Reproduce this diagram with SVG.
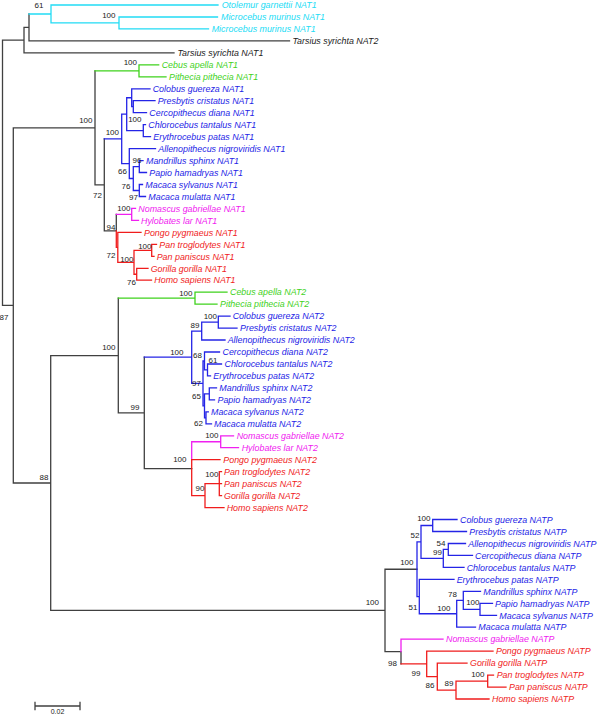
<svg xmlns="http://www.w3.org/2000/svg" width="600" height="715" viewBox="0 0 600 715">
<style>
path{fill:none;stroke-width:1.3;stroke-linecap:square}
.k{stroke:#404040}.c{stroke:#22dcf5}.g{stroke:#3fd21c}.u{stroke:#2424e6}.m{stroke:#f020f0}.r{stroke:#f01c1c}
text{font-family:"Liberation Sans",Arial,Helvetica,sans-serif}
.t{font-size:8.9px;font-style:italic}
.n{font-size:8px;fill:#222;text-anchor:end}
.tk{fill:#222}.tc{fill:#22dcf5}.tg{fill:#3fd21c}.tu{fill:#2424e6}.tm{fill:#f020f0}.tr{fill:#f01c1c}
</style>
<rect width="600" height="715" fill="#fff"/>
<g id="connectors">
<path class="k" d="M2.5,40.17V305.43M2.5,40.17H24M24,27.44V52.9M24,52.9H174M24,27.44H29M29,13.98V40.9M29,40.9H289.5M2.5,305.43H13.3M13.3,127.85V483M13.3,127.85H95M95,70.8V184.9M95,184.9H104.3M104.3,138.9V230.9M104.3,230.9H116.3M116.3,214.4V230.9M13.3,483H50.7M50.7,355.6V610.41M50.7,355.6H118.3M118.3,298.2V412.95M118.3,412.95H144.3M144.3,357.2V468.7M144.3,468.7H191.7M50.7,610.41H385M385,569.27V651.55M385,569.27H417M385,651.55H401M401,651.55V663.89"/>
<path class="c" d="M29,13.98H51M51,5V22.95M51,5H218M51,22.95H119M119,17V28.9M119,17H217.5M119,28.9H208.5"/>
<path class="g" d="M95,70.8H139M139,64.8V76.8M139,64.8H158.7M139,76.8H166M118.3,298.2H195M195,292.2V304.2M195,292.2H227M195,304.2H217"/>
<path class="u" d="M104.3,138.9H121.7M121.7,114.2V163.55M121.7,114.2H126.7M126.7,97.75V130.65M126.7,97.75H131.7M131.7,88.8V106.7M131.7,88.8H150M131.7,106.7H133.3M133.3,100.7V112.7M133.3,100.7H155M133.3,112.7H146.5M126.7,130.65H143.3M143.3,124.7V136.6M143.3,124.7H145.5M143.3,136.6H150.5M121.7,163.55H129.3M129.3,148.6V178.5M129.3,148.6H155.5M129.3,178.5H133.3M133.3,166.55V190.5M133.3,166.55H139.3M139.3,160.6V172.5M139.3,160.6H143M139.3,172.5H146.5M133.3,190.5H139.3M139.3,184.5V196.5M139.3,184.5H142.5M139.3,196.5H145.5"/>
<path class="m" d="M116.3,214.4H131.7M131.7,208.4V220.4M131.7,208.4H135.5M131.7,220.4H138.5"/>
<path class="r" d="M116.3,230.9V247.35H117.8M117.8,232.4V262.3M117.8,232.4H141M117.8,262.3H134M134,250.3V274.25M134,250.3H151.7M151.7,244.3V256.3M151.7,244.3H156.5M151.7,256.3H154M134,274.25H136.7M136.7,268.3V280.2M136.7,268.3H148M136.7,280.2H151.5"/>
<path class="u" d="M144.3,357.2H191.7M191.7,331.05V383.4M191.7,331.05H201.7M201.7,322.1V340M201.7,322.1H218.3M218.3,316.1V328.1M218.3,316.1H230M218.3,328.1H237M201.7,340H225M191.7,383.4H203M203,360.98V405.85M203,360.98H204.5M204.5,352V369.95M204.5,352H219.5M204.5,369.95H207.5M207.5,364V375.9M207.5,364H221.5M207.5,375.9H210.5M203,405.85H204.5M204.5,393.9V417.8M204.5,393.9H209.3M209.3,387.9V399.9M209.3,387.9H216.5M209.3,399.9H214.5M204.5,417.8H206M206,411.8V423.8M206,411.8H208.3M206,423.8H211.5"/>
<path class="m" d="M191.7,441.75V459.7M191.7,441.75H220.7M220.7,435.8V447.7M220.7,435.8H233.5M220.7,447.7H238.5"/>
<path class="r" d="M191.7,459.7V495.6M191.7,459.7H220M191.7,495.6H205M205,483.65V507.6M205,483.65H219.3M219.3,471.7V495.6M219.3,471.7H221.5M219.3,483.6H221.5M219.3,495.6H221.5M205,507.6H224"/>
<path class="u" d="M417,541.97V596.58M417,541.97H421M421,525.5V558.43M421,525.5H432.7M432.7,519.5V531.5M432.7,519.5H457M432.7,531.5H466.5M421,558.43H443.3M443.3,549.45V567.4M443.3,549.45H448.3M448.3,543.5V555.4M448.3,543.5H465.5M448.3,555.4H472.5M443.3,567.4H464M417,596.58H419.3M419.3,579.4V613.75M419.3,579.4H454M419.3,613.75H456.7M456.7,600.3V627.2M456.7,600.3H463.3M463.3,591.3V609.3M463.3,591.3H480.5M463.3,609.3H480M480,603.3V615.3M480,603.3H492.5M480,615.3H496.5M456.7,627.2H475.5"/>
<path class="m" d="M401,639.2V651.55M401,639.2H443"/>
<path class="r" d="M401,663.89H426.7M426.7,651.2V676.58M426.7,651.2H493M426.7,676.58H437.3M437.3,663.1V690.05M437.3,663.1H467M437.3,690.05H456M456,681.1V699M456,681.1H487.7M487.7,675.1V687.1M487.7,675.1H493.5M487.7,687.1H506M456,699H489"/>
<path class="k" d="M35,706H80M35,702.5V709.5M80,702.5V709.5"/>
</g>
<g id="leaf-0"><text class="t tc" x="221.7" y="8.2">Otolemur garnettii NAT1</text></g>
<g id="leaf-1"><text class="t tc" x="221" y="20.2">Microcebus murinus NAT1</text></g>
<g id="leaf-2"><text class="t tc" x="211.7" y="32.1">Microcebus murinus NAT1</text></g>
<g id="leaf-3"><text class="t tk" x="292.5" y="44.1">Tarsius syrichta NAT2</text></g>
<g id="leaf-4"><text class="t tk" x="177.5" y="56.1">Tarsius syrichta NAT1</text></g>
<g id="leaf-5"><text class="t tg" x="161.7" y="68">Cebus apella NAT1</text></g>
<g id="leaf-6"><text class="t tg" x="169" y="80">Pithecia pithecia NAT1</text></g>
<g id="leaf-7"><text class="t tu" x="152.7" y="92">Colobus guereza NAT1</text></g>
<g id="leaf-8"><text class="t tu" x="157.7" y="103.9">Presbytis cristatus NAT1</text></g>
<g id="leaf-9"><text class="t tu" x="149.3" y="115.9">Cercopithecus diana NAT1</text></g>
<g id="leaf-10"><text class="t tu" x="148.3" y="127.9">Chlorocebus tantalus NAT1</text></g>
<g id="leaf-11"><text class="t tu" x="153.3" y="139.8">Erythrocebus patas NAT1</text></g>
<g id="leaf-12"><text class="t tu" x="158.3" y="151.8">Allenopithecus nigroviridis NAT1</text></g>
<g id="leaf-13"><text class="t tu" x="146" y="163.8">Mandrillus sphinx NAT1</text></g>
<g id="leaf-14"><text class="t tu" x="149.3" y="175.7">Papio hamadryas NAT1</text></g>
<g id="leaf-15"><text class="t tu" x="145.3" y="187.7">Macaca sylvanus NAT1</text></g>
<g id="leaf-16"><text class="t tu" x="148.3" y="199.7">Macaca mulatta NAT1</text></g>
<g id="leaf-17"><text class="t tm" x="138.3" y="211.6">Nomascus gabriellae NAT1</text></g>
<g id="leaf-18"><text class="t tm" x="141" y="223.6">Hylobates lar NAT1</text></g>
<g id="leaf-19"><text class="t tr" x="144" y="235.6">Pongo pygmaeus NAT1</text></g>
<g id="leaf-20"><text class="t tr" x="159.3" y="247.5">Pan troglodytes NAT1</text></g>
<g id="leaf-21"><text class="t tr" x="156.7" y="259.5">Pan paniscus NAT1</text></g>
<g id="leaf-22"><text class="t tr" x="150.7" y="271.5">Gorilla gorilla NAT1</text></g>
<g id="leaf-23"><text class="t tr" x="154.3" y="283.4">Homo sapiens NAT1</text></g>
<g id="leaf-24"><text class="t tg" x="230" y="295.4">Cebus apella NAT2</text></g>
<g id="leaf-25"><text class="t tg" x="220" y="307.4">Pithecia pithecia NAT2</text></g>
<g id="leaf-26"><text class="t tu" x="232.7" y="319.3">Colobus guereza NAT2</text></g>
<g id="leaf-27"><text class="t tu" x="240" y="331.3">Presbytis cristatus NAT2</text></g>
<g id="leaf-28"><text class="t tu" x="227.7" y="343.2">Allenopithecus nigroviridis NAT2</text></g>
<g id="leaf-29"><text class="t tu" x="222.5" y="355.2">Cercopithecus diana NAT2</text></g>
<g id="leaf-30"><text class="t tu" x="224.5" y="367.2">Chlorocebus tantalus NAT2</text></g>
<g id="leaf-31"><text class="t tu" x="213.3" y="379.1">Erythrocebus patas NAT2</text></g>
<g id="leaf-32"><text class="t tu" x="219.3" y="391.1">Mandrillus sphinx NAT2</text></g>
<g id="leaf-33"><text class="t tu" x="217.5" y="403.1">Papio hamadryas NAT2</text></g>
<g id="leaf-34"><text class="t tu" x="211" y="415">Macaca sylvanus NAT2</text></g>
<g id="leaf-35"><text class="t tu" x="214" y="427">Macaca mulatta NAT2</text></g>
<g id="leaf-36"><text class="t tm" x="236.7" y="439">Nomascus gabriellae NAT2</text></g>
<g id="leaf-37"><text class="t tm" x="241.7" y="450.9">Hylobates lar NAT2</text></g>
<g id="leaf-38"><text class="t tr" x="223.3" y="462.9">Pongo pygmaeus NAT2</text></g>
<g id="leaf-39"><text class="t tr" x="224" y="474.9">Pan troglodytes NAT2</text></g>
<g id="leaf-40"><text class="t tr" x="224" y="486.8">Pan paniscus NAT2</text></g>
<g id="leaf-41"><text class="t tr" x="224" y="498.8">Gorilla gorilla NAT2</text></g>
<g id="leaf-42"><text class="t tr" x="226.7" y="510.8">Homo sapiens NAT2</text></g>
<g id="leaf-43"><text class="t tu" x="460" y="522.7">Colobus guereza NATP</text></g>
<g id="leaf-44"><text class="t tu" x="469.3" y="534.7">Presbytis cristatus NATP</text></g>
<g id="leaf-45"><text class="t tu" x="468.3" y="546.7">Allenopithecus nigroviridis NATP</text></g>
<g id="leaf-46"><text class="t tu" x="475" y="558.6">Cercopithecus diana NATP</text></g>
<g id="leaf-47"><text class="t tu" x="466.7" y="570.6">Chlorocebus tantalus NATP</text></g>
<g id="leaf-48"><text class="t tu" x="456.7" y="582.6">Erythrocebus patas NATP</text></g>
<g id="leaf-49"><text class="t tu" x="483.3" y="594.5">Mandrillus sphinx NATP</text></g>
<g id="leaf-50"><text class="t tu" x="495" y="606.5">Papio hamadryas NATP</text></g>
<g id="leaf-51"><text class="t tu" x="499.3" y="618.5">Macaca sylvanus NATP</text></g>
<g id="leaf-52"><text class="t tu" x="478.3" y="630.4">Macaca mulatta NATP</text></g>
<g id="leaf-53"><text class="t tm" x="446" y="642.4">Nomascus gabriellae NATP</text></g>
<g id="leaf-54"><text class="t tr" x="496" y="654.4">Pongo pygmaeus NATP</text></g>
<g id="leaf-55"><text class="t tr" x="470" y="666.3">Gorilla gorilla NATP</text></g>
<g id="leaf-56"><text class="t tr" x="496.7" y="678.3">Pan troglodytes NATP</text></g>
<g id="leaf-57"><text class="t tr" x="509" y="690.3">Pan paniscus NATP</text></g>
<g id="leaf-58"><text class="t tr" x="492" y="702.2">Homo sapiens NATP</text></g>
<g id="support">
<text class="n" x="43.5" y="8">61</text>
<text class="n" x="115.5" y="18">100</text>
<text class="n" x="137" y="65">100</text>
<text class="n" x="92.5" y="123">100</text>
<text class="n" x="119" y="134.5">100</text>
<text class="n" x="141.5" y="121.5">100</text>
<text class="n" x="141.5" y="163">96</text>
<text class="n" x="127" y="174">66</text>
<text class="n" x="130.5" y="188.5">76</text>
<text class="n" x="138" y="200.3">97</text>
<text class="n" x="102" y="198">72</text>
<text class="n" x="130.5" y="211">100</text>
<text class="n" x="115.5" y="229.5">94</text>
<text class="n" x="115.5" y="258">72</text>
<text class="n" x="151.5" y="248.5">100</text>
<text class="n" x="133.5" y="262">100</text>
<text class="n" x="136" y="284.5">76</text>
<text class="n" x="8.5" y="319.5">87</text>
<text class="n" x="192.5" y="296">100</text>
<text class="n" x="115.5" y="349.5">100</text>
<text class="n" x="217" y="319">100</text>
<text class="n" x="199.5" y="328">89</text>
<text class="n" x="183.5" y="354.5">100</text>
<text class="n" x="202" y="358">68</text>
<text class="n" x="217.5" y="362.5">61</text>
<text class="n" x="201" y="386">97</text>
<text class="n" x="201" y="399">65</text>
<text class="n" x="203" y="426.3">62</text>
<text class="n" x="139.5" y="410.3">99</text>
<text class="n" x="218.5" y="438">100</text>
<text class="n" x="186.5" y="462">100</text>
<text class="n" x="218.5" y="477">100</text>
<text class="n" x="204.5" y="491">90</text>
<text class="n" x="48.5" y="480">88</text>
<text class="n" x="379" y="604.5">100</text>
<text class="n" x="413.5" y="564.5">100</text>
<text class="n" x="430.5" y="521">100</text>
<text class="n" x="419.5" y="538">52</text>
<text class="n" x="445.5" y="545.5">54</text>
<text class="n" x="442" y="554.5">99</text>
<text class="n" x="457" y="597">78</text>
<text class="n" x="479.5" y="604.5">100</text>
<text class="n" x="450.5" y="611">100</text>
<text class="n" x="417.5" y="609.5">51</text>
<text class="n" x="397" y="666">98</text>
<text class="n" x="420.5" y="676">99</text>
<text class="n" x="434.5" y="688">86</text>
<text class="n" x="453.5" y="686">89</text>
<text class="n" x="484.5" y="677">100</text>
</g>
<text x="57.5" y="714" font-size="7" fill="#222" text-anchor="middle">0.02</text>
</svg>
